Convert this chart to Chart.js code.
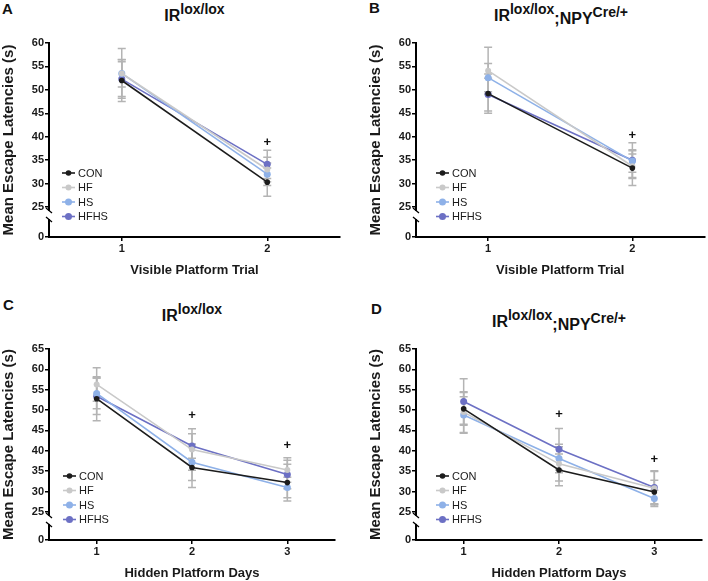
<!DOCTYPE html>
<html>
<head>
<meta charset="utf-8">
<script src="https://cdn.jsdelivr.net/npm/chart.js@4/dist/chart.umd.min.js"></script>
<style>
  body { margin: 0; background: #fff; }
  #wrap { position: relative; width: 708px; height: 581px; overflow: hidden; font-family: "Liberation Sans", Arial, Helvetica, sans-serif; color: #111; }
  canvas { position: absolute; }
  .letter { position: absolute; font-weight: bold; font-size: 15px; line-height: 15px; }
  .title { position: absolute; text-align: center; font-weight: bold; font-size: 16px; line-height: 20px; white-space: nowrap; }
  .title sup { font-size: 14px; vertical-align: baseline; position: relative; top: -7px; }
  .low { position: relative; top: 3px; }
</style>
</head>
<body>
<div id="wrap">
  <div class="letter" style="left:2px;top:1px">A</div>
  <div class="letter" style="left:369px;top:0px">B</div>
  <div class="letter" style="left:3px;top:297px">C</div>
  <div class="letter" style="left:371px;top:301px">D</div>
  <div class="title" style="left:49px;width:291px;top:6px">IR<sup>lox/lox</sup></div>
  <div class="title" style="left:416px;width:290px;top:6px">IR<sup>lox/lox</sup><span class="low">;NPY<sup>Cre/+</sup></span></div>
  <div class="title" style="left:49px;width:286px;top:306px">IR<sup>lox/lox</sup></div>
  <div class="title" style="left:416px;width:286px;top:312px">IR<sup>lox/lox</sup><span class="low">;NPY<sup>Cre/+</sup></span></div>
  <canvas id="chartA" width="354" height="290" style="left:0;top:0"></canvas>
  <canvas id="chartB" width="354" height="290" style="left:354px;top:0"></canvas>
  <canvas id="chartC" width="354" height="291" style="left:0;top:290px"></canvas>
  <canvas id="chartD" width="354" height="291" style="left:354px;top:290px"></canvas>
</div>
<script>
var visibleTrials = [1, 2];
var hiddenDays = [1, 2, 3];
var groupNames = ["CON", "HF", "HS", "HFHS"];
var groupColors = ["#1c1c1c", "#c9c9c9", "#8eb1e8", "#6c70c4"];
var pointSizes = [2.8, 3, 3.5, 3.5];
var yTicksVisible = [0, 25, 30, 35, 40, 45, 50, 55, 60];
var yTicksHidden = [0, 25, 30, 35, 40, 45, 50, 55, 60, 65];

// A: IRlox/lox, visible platform
var conA = [52.0, 30.3];
var hfA = [53.5, 33.0];
var hsA = [53.5, 32.0];
var hfhsA = [52.3, 34.1];
var conAErr = [4.5, 3.0];
var hfAErr = [5.3, 2.6];
var hsAErr = [2.9, 2.4];
var hfhsAErr = [3.7, 3.0];
var plusAX = [2];
var plusAY = [38.8];

// B: IRlox/lox;NPYCre/+, visible platform
var conB = [49.2, 33.3];
var hfB = [54.1, 33.7];
var hsB = [52.6, 34.8];
var hfhsB = [49.0, 35.0];
var conBErr = [4.2, 3.7];
var hfBErr = [5.0, 2.6];
var hsBErr = [3.0, 2.4];
var hfhsBErr = [3.5, 3.7];
var plusBX = [2];
var plusBY = [40.2];

// C: IRlox/lox, hidden platform
var conC = [52.8, 35.9, 32.2];
var hfC = [56.3, 40.3, 35.3];
var hsC = [54.1, 37.2, 31.0];
var hfhsC = [53.4, 41.2, 34.2];
var conCErr = [5.4, 4.9, 4.5];
var hfCErr = [4.1, 5.1, 3.0];
var hsCErr = [3.8, 4.5, 2.5];
var hfhsCErr = [4.5, 3.0, 3.5];
var plusCX = [2, 3];
var plusCY = [48.7, 41.3];

// D: IRlox/lox;NPYCre/+, hidden platform
var conD = [50.3, 35.3, 29.9];
var hfD = [49.5, 36.8, 30.8];
var hsD = [48.8, 38.1, 28.3];
var hfhsD = [52.1, 40.4, 31.0];
var conDErr = [4.0, 3.9, 2.9];
var hfDErr = [5.0, 4.2, 4.1];
var hsDErr = [4.5, 3.5, 2.0];
var hfhsDErr = [5.6, 5.1, 4.1];
var plusDX = [2, 3];
var plusDY = [48.9, 38.0];

Chart.defaults.font.family = "'Liberation Sans', Arial, Helvetica, sans-serif";
Chart.defaults.color = "#1a1a1a";

var extrasPlugin = {
  id: "extras",
  beforeDatasetsDraw: function (chart, args, opts) {
    var ctx = chart.ctx;
    var xs = chart.scales.x;
    var ys = chart.scales.y;
    ctx.save();
    ctx.strokeStyle = "#b4b4b4";
    ctx.lineWidth = 1.5;
    for (var i = 0; i < chart.data.datasets.length; i++) {
      var pts = chart.data.datasets[i].data;
      var errs = opts.errors[i];
      for (var j = 0; j < pts.length; j++) {
        var x = xs.getPixelForValue(pts[j].x);
        var y1 = ys.getPixelForValue(pts[j].y + errs[j]);
        var y2 = ys.getPixelForValue(pts[j].y - errs[j]);
        ctx.beginPath();
        ctx.moveTo(x, y1);
        ctx.lineTo(x, y2);
        ctx.moveTo(x - 4, y1);
        ctx.lineTo(x + 4, y1);
        ctx.moveTo(x - 4, y2);
        ctx.lineTo(x + 4, y2);
        ctx.stroke();
      }
    }
    ctx.restore();
  },
  afterDraw: function (chart, args, opts) {
    var ctx = chart.ctx;
    var xs = chart.scales.x;
    var ys = chart.scales.y;
    var area = chart.chartArea;
    ctx.save();
    // significance marks
    ctx.fillStyle = "#111";
    ctx.font = "bold 13px 'Liberation Sans', Arial, sans-serif";
    ctx.textAlign = "center";
    ctx.textBaseline = "middle";
    for (var k = 0; k < opts.plusX.length; k++) {
      ctx.fillText("+", xs.getPixelForValue(opts.plusX[k]), ys.getPixelForValue(opts.plusY[k]));
    }
    // axis break between 25 and 0
    var ax = area.left;
    var yb = ys.getPixelForValue(25);
    ctx.fillStyle = "#fff";
    ctx.fillRect(ax - 4, yb + 4, 8, 8);
    ctx.strokeStyle = "#000";
    ctx.lineWidth = 1.3;
    ctx.beginPath();
    ctx.moveTo(ax - 3, yb + 1);
    ctx.lineTo(ax + 3, yb + 6);
    ctx.moveTo(ax - 3, yb + 10);
    ctx.lineTo(ax + 3, yb + 15);
    ctx.stroke();
    // legend inside the plot
    var lx = area.left + opts.legendX;
    var ly = area.bottom - 64;
    ctx.font = "11px 'Liberation Sans', Arial, sans-serif";
    ctx.textAlign = "left";
    for (var i = 0; i < chart.data.datasets.length; i++) {
      var ds = chart.data.datasets[i];
      var y = ly + i * 14.5;
      ctx.strokeStyle = ds.borderColor;
      ctx.lineWidth = 1.6;
      ctx.beginPath();
      ctx.moveTo(lx, y);
      ctx.lineTo(lx + 13, y);
      ctx.stroke();
      ctx.fillStyle = ds.borderColor;
      ctx.beginPath();
      ctx.arc(lx + 6.5, y, ds.pointRadius, 0, Math.PI * 2);
      ctx.fill();
      ctx.fillStyle = "#1a1a1a";
      ctx.fillText(ds.label, lx + 16, y + 0.5);
    }
    ctx.restore();
  }
};

function makeDatasets(xs, series) {
  var sets = [];
  for (var i = 0; i < series.length; i++) {
    var pts = [];
    for (var j = 0; j < xs.length; j++) pts.push({ x: xs[j], y: series[i][j] });
    sets.push({
      label: groupNames[i],
      data: pts,
      borderColor: groupColors[i],
      backgroundColor: groupColors[i],
      borderWidth: 1.6,
      pointRadius: pointSizes[i],
      pointBorderWidth: 0,
      pointHoverRadius: pointSizes[i]
    });
  }
  return sets;
}

function makePanel(id, xs, series, errors, yTicks, floor, xTitle, cfg) {
  var el = document.getElementById(id);
  return new Chart(el, {
    type: "line",
    data: { datasets: makeDatasets(xs, series) },
    plugins: [extrasPlugin],
    options: {
      responsive: false,
      animation: false,
      devicePixelRatio: 1,
      layout: { padding: cfg.pad },
      plugins: {
        legend: { display: false },
        tooltip: { enabled: false },
        extras: { errors: errors, plusX: cfg.plusX, plusY: cfg.plusY, legendX: cfg.legendX }
      },
      scales: {
        x: {
          type: "linear",
          min: 0.5,
          max: xs[xs.length - 1] + 0.5,
          afterBuildTicks: function (s) {
            s.ticks = xs.map(function (v) { return { value: v }; });
          },
          afterFit: function (s) { s.height = cfg.xHeight; },
          ticks: {
            color: "#1a1a1a",
            font: { size: 11, weight: "bold" },
            padding: 1,
            maxRotation: 0,
            autoSkip: false,
            callback: function (v) { return String(v); }
          },
          grid: { drawOnChartArea: false, tickLength: 4, color: "#000", lineWidth: 1.5 },
          border: { color: "#000", width: 2 },
          title: {
            display: true,
            text: xTitle,
            color: "#1a1a1a",
            font: { size: 13, weight: "bold" },
            padding: { top: 0, bottom: cfg.xTitlePad }
          }
        },
        y: {
          type: "linear",
          min: floor,
          max: yTicks[yTicks.length - 1],
          afterBuildTicks: function (s) {
            s.ticks = yTicks.map(function (v) { return { value: v === 0 ? floor : v }; });
          },
          afterFit: function (s) { s.width = 49; },
          ticks: {
            color: "#1a1a1a",
            font: { size: 11, weight: "bold" },
            padding: 1,
            autoSkip: false,
            callback: function (v) { return v === floor ? "0" : String(v); }
          },
          grid: { drawOnChartArea: false, tickLength: 4, color: "#000", lineWidth: 1.5 },
          border: { color: "#000", width: 2 },
          title: {
            display: true,
            text: "Mean Escape Latencies (s)",
            color: "#1a1a1a",
            font: { size: 15, weight: "bold" },
            padding: { top: 0, bottom: 0 }
          }
        }
      }
    }
  });
}

makePanel("chartA", visibleTrials, [conA, hfA, hsA, hfhsA], [conAErr, hfAErr, hsAErr, hfhsAErr],
  yTicksVisible, 18.6, "Visible Platform Trial",
  { pad: { top: 43, right: 14, left: 0, bottom: 0 }, xHeight: 53, xTitlePad: 12, legendX: 13, plusX: plusAX, plusY: plusAY });
makePanel("chartB", visibleTrials, [conB, hfB, hsB, hfhsB], [conBErr, hfBErr, hsBErr, hfhsBErr],
  yTicksVisible, 18.6, "Visible Platform Trial",
  { pad: { top: 43, right: 2, left: 13, bottom: 0 }, xHeight: 53, xTitlePad: 12, legendX: 20, plusX: plusBX, plusY: plusBY });
makePanel("chartC", hiddenDays, [conC, hfC, hsC, hfhsC], [conCErr, hfCErr, hsCErr, hfhsCErr],
  yTicksHidden, 18.1, "Hidden Platform Days",
  { pad: { top: 59, right: 19, left: 0, bottom: 0 }, xHeight: 41, xTitlePad: 0, legendX: 14, plusX: plusCX, plusY: plusCY });
makePanel("chartD", hiddenDays, [conD, hfD, hsD, hfhsD], [conDErr, hfDErr, hsDErr, hfhsDErr],
  yTicksHidden, 18.1, "Hidden Platform Days",
  { pad: { top: 59, right: 6, left: 13, bottom: 0 }, xHeight: 41, xTitlePad: 0, legendX: 20, plusX: plusDX, plusY: plusDY });
</script>
</body>
</html>
